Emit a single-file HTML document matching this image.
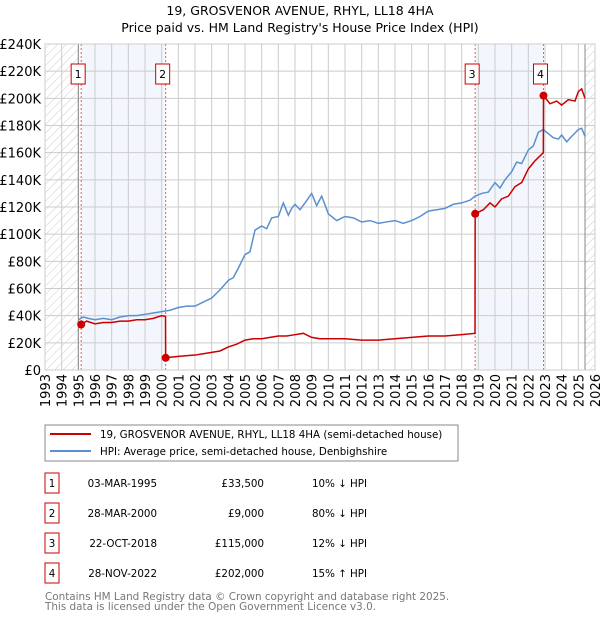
<!DOCTYPE html>
<html><head><meta charset="utf-8">
<style>
body{margin:0;background:#fff;font-family:"Liberation Sans","DejaVu Sans",sans-serif;}
svg text{font-family:"DejaVu Sans","Liberation Sans",sans-serif;}
</style></head>
<body>
<svg id="c" width="600" height="620" xmlns="http://www.w3.org/2000/svg">
<defs>
<pattern id="hatch" width="6" height="6" patternUnits="userSpaceOnUse" patternTransform="rotate(45)">
<line x1="0" y1="0" x2="0" y2="6" stroke="#ccc" stroke-width="1"/></pattern>
</defs>
<text x="300" y="15" text-anchor="middle" font-size="12.5" fill="#000">19, GROSVENOR AVENUE, RHYL, LL18 4HA</text>
<text x="300" y="32" text-anchor="middle" font-size="12.5" fill="#000">Price paid vs. HM Land Registry's House Price Index (HPI)</text>
<g id="plot"></g>
<rect x="45" y="425" width="413" height="36" fill="#fff" stroke="#888"/>
<line x1="50" y1="434" x2="91" y2="434" stroke="#cc0000" stroke-width="2"/>
<text x="100" y="438" font-size="10.3">19, GROSVENOR AVENUE, RHYL, LL18 4HA (semi-detached house)</text>
<line x1="50" y1="451" x2="91" y2="451" stroke="#5b8fd0" stroke-width="2"/>
<text x="100" y="455" font-size="10.3">HPI: Average price, semi-detached house, Denbighshire</text>
<g id="table" font-size="10.3"></g>
<text x="45" y="600" font-size="10.4" fill="#777">Contains HM Land Registry data © Crown copyright and database right 2025.</text>
<text x="45" y="610" font-size="10.4" fill="#777">This data is licensed under the Open Government Licence v3.0.</text>
</svg>
<script>
const yTicks=[0,20,40,60,80,100,120,140,160,180,200,220,240];
const xYears=[1993,1994,1995,1996,1997,1998,1999,2000,2001,2002,2003,2004,2005,2006,2007,2008,2009,2010,2011,2012,2013,2014,2015,2016,2017,2018,2019,2020,2021,2022,2023,2024,2025,2026];
const hpiT=[1995.0,1995.3,1995.6,1996,1996.5,1997,1997.5,1998,1998.5,1999,1999.5,2000,2000.5,2001,2001.5,2002,2002.5,2003,2003.5,2004,2004.3,2004.6,2005,2005.3,2005.6,2006,2006.3,2006.6,2007,2007.3,2007.6,2007.8,2008,2008.3,2008.6,2009,2009.3,2009.6,2010,2010.5,2011,2011.5,2012,2012.5,2013,2013.5,2014,2014.5,2015,2015.5,2016,2016.5,2017,2017.5,2018,2018.5,2018.8,2019.2,2019.6,2020,2020.3,2020.6,2021,2021.3,2021.6,2022,2022.3,2022.6,2022.9,2023.2,2023.5,2023.8,2024,2024.3,2024.6,2025,2025.2,2025.4];
const hpiV=[37,39,38,37,38,37,39,40,40,41,42,43,44,46,47,47,50,53,59,66,68,75,85,87,103,106,104,112,113,123,114,119,122,118,123,130,121,128,115,110,113,112,109,110,108,109,110,108,110,113,117,118,119,122,123,125,128,130,131,138,134,140,146,153,152,162,165,175,177,174,171,170,173,168,172,177,178,172];
const ppT=[1995.17,1995.5,1996,1996.5,1997,1997.5,1998,1998.5,1999,1999.5,2000,2000.23,2000.24,2001,2002,2002.5,2003,2003.5,2004,2004.5,2005,2005.5,2006,2006.5,2007,2007.5,2008,2008.5,2009,2009.5,2010,2011,2012,2013,2014,2015,2016,2017,2018,2018.8,2018.81,2019.3,2019.7,2020,2020.4,2020.8,2021.2,2021.6,2022,2022.4,2022.9,2022.91,2023.3,2023.7,2024,2024.4,2024.8,2025,2025.2,2025.4];
const ppV=[33.5,36,34,35,35,36,36,37,37,38,40,39.5,9,10,11,12,13,14,17,19,22,23,23,24,25,25,26,27,24,23,23,23,22,22,23,24,25,25,26,27,115,118,123,120,126,128,135,138,148,154,160,202,196,198,195,199,198,205,207,200];
const saleT=[1995.17,2000.24,2018.81,2022.91];
const saleV=[33.5,9,115,202];
const saleLabels=["1","2","3","4"];
const saleDates=["03-MAR-1995","28-MAR-2000","22-OCT-2018","28-NOV-2022"];
const salePrices=["£33,500","£9,000","£115,000","£202,000"];
const saleDiffs=["10% ↓ HPI","80% ↓ HPI","12% ↓ HPI","15% ↑ HPI"];
const X0=45,X1=595,Y0=370,Y1=44;
const xs=t=>X0+(t-1993)/(2026-1993)*(X1-X0);
const ys=v=>Y0-v/240*(Y0-Y1);
const NS="http://www.w3.org/2000/svg";
const plot=document.getElementById('plot');
function mk(tag,attrs,parent){const e=document.createElementNS(NS,tag);for(const k in attrs)e.setAttribute(k,attrs[k]);(parent||plot).appendChild(e);return e;}
let e;
e=mk('rect',{x:X0,y:Y1,width:X1-X0,height:Y0-Y1,fill:'#fff'});


e=mk('rect',{x:xs(saleT[0]),y:Y1,width:xs(saleT[1])-xs(saleT[0]),height:Y0-Y1,fill:'#eef3fc',opacity:0.7});


e=mk('rect',{x:xs(saleT[2]),y:Y1,width:xs(saleT[3])-xs(saleT[2]),height:Y0-Y1,fill:'#eef3fc',opacity:0.7});


e=mk('rect',{x:X0,y:Y1,width:xs(1995)-X0,height:Y0-Y1,fill:'url(#hatch)'});


e=mk('rect',{x:xs(2025.4),y:Y1,width:X1-xs(2025.4),height:Y0-Y1,fill:'url(#hatch)'});


yTicks.forEach(v=>{
 e=mk('line',{x1:X0,x2:X1,y1:ys(v),y2:ys(v),stroke:'#ccc','stroke-width':1});
 
 
 e=mk('text',{x:X0-4,y:ys(v)+5,'text-anchor':'end','font-size':13});
 e.textContent=v===0?'£0':'£'+v+'K';
 
 
});
xYears.forEach(t=>{
 e=mk('line',{x1:xs(t),x2:xs(t),y1:Y1,y2:Y0,stroke:'#ccc','stroke-width':1});
 
 
 e=mk('text',{x:xs(t)+5,y:Y0+4,'text-anchor':'end','font-size':13,transform:`rotate(-90 ${xs(t)+5} ${Y0+4})`});
 e.textContent=t;
 
 
});
e=mk('line',{x1:xs(1995),x2:xs(1995),y1:Y1,y2:Y0,stroke:'#888'});


e=mk('line',{x1:xs(2025.4),x2:xs(2025.4),y1:Y1,y2:Y0,stroke:'#888'});


saleT.forEach((t,i)=>{
 e=mk('line',{x1:xs(t),x2:xs(t),y1:Y1,y2:Y0,stroke:'#e06060','stroke-dasharray':'2,2'});
 
 
});
e=mk('polyline',{points:hpiT.map((t,i)=>xs(t)+','+ys(hpiV[i])).join(' '),fill:'none',stroke:'#5b8fd0','stroke-width':1.5});


e=mk('polyline',{points:ppT.map((t,i)=>xs(t)+','+ys(ppV[i])).join(' '),fill:'none',stroke:'#cc0000','stroke-width':1.5});


saleT.forEach((t,i)=>{
 e=mk('circle',{cx:xs(t),cy:ys(saleV[i]),r:4,fill:'#cc0000'});
 
 
 e=mk('rect',{x:xs(t)-10,y:64,width:14,height:20,fill:'#fff',stroke:'#cc0000'});
 
 
 e=mk('text',{x:xs(t)-3,y:78,'text-anchor':'middle','font-size':11});
 e.textContent=saleLabels[i];
 
 
});
e=mk('rect',{x:X0,y:Y1,width:X1-X0,height:Y0-Y1,fill:'none',stroke:'#ccc'});


const tb=document.getElementById('table');
saleT.forEach((t,i)=>{
 const cy=483+i*30;
 e=mk('rect',{x:45,y:cy-10,width:14,height:20,fill:'#fff',stroke:'#cc0000'},tb);
 
 
 e=mk('text',{x:52,y:cy+4,'text-anchor':'middle'},tb);e.textContent=saleLabels[i];
 
 
 e=mk('text',{x:157,y:cy+4,'text-anchor':'end'},tb);e.textContent=saleDates[i];
 
 
 e=mk('text',{x:264,y:cy+4,'text-anchor':'end'},tb);e.textContent=salePrices[i];
 
 
 e=mk('text',{x:312,y:cy+4},tb);e.textContent=saleDiffs[i];
 
 
});
</script>
</body></html>
